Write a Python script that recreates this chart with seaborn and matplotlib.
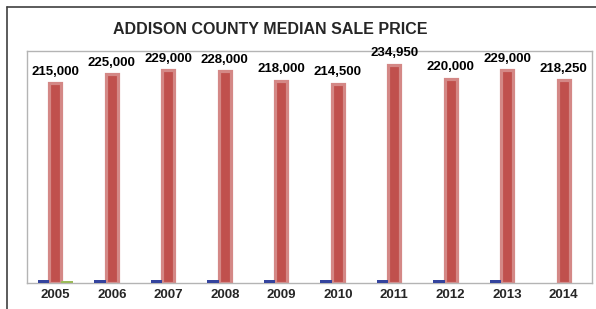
import pandas as pd
import matplotlib
matplotlib.use('Agg')
import matplotlib.pyplot as plt
from matplotlib.lines import Line2D
import seaborn as sns

# values
years = ['2005', '2006', '2007', '2008', '2009', '2010', '2011', '2012', '2013', '2014']
median_price = [215000, 225000, 229000, 228000, 218000, 214500, 234950, 220000, 229000, 218250]
small_blue = [3000, 3000, 3000, 3000, 3000, 3000, 3000, 3000, 3000, None]
small_green = [2500, None, None, None, None, None, None, None, None, None]

rows = []
for i, yr in enumerate(years):
    rows.append({'year': yr, 'series': 'a', 'value': small_blue[i]})
    rows.append({'year': yr, 'series': 'price', 'value': median_price[i]})
    rows.append({'year': yr, 'series': 'b', 'value': small_green[i]})
df = pd.DataFrame(rows).dropna()

sns.set_theme(style="white")
plt.rcParams['font.family'] = ['Liberation Sans', 'DejaVu Sans']

fig = plt.figure(figsize=(5.96, 3.09), dpi=100)
ax = fig.add_axes([27 / 596, 26 / 309, 565 / 596, 232 / 309])

palette = {'a': '#34449e', 'price': '#c0504d', 'b': '#9bbb59'}
sns.barplot(data=df, x='year', y='value', hue='series', order=years,
            hue_order=['a', 'price', 'b'], palette=palette, width=0.62,
            saturation=1, errorbar=None, legend=False, ax=ax)

# small bars sit on top of the axis line
for c in (ax.containers[0], ax.containers[2]):
    for p in c:
        p.set_edgecolor('none')
        p.set_zorder(4)

# red bars get the soft halo
red = ax.containers[1]
for p in red:
    p.set_edgecolor('#d48886')
    p.set_linewidth(2.3)

ax.bar_label(red, labels=[f"{v:,}" for v in median_price], padding=4,
             fontsize=9.5, fontweight='bold', color='black')

ax.set_ylim(0, 250000)
ax.set_xlim(-0.5, len(years) - 0.5)
ax.set_yticks([])
ax.set_xlabel('')
ax.set_ylabel('')
ax.tick_params(axis='x', length=0, pad=4, labelsize=9.5)
for lab in ax.get_xticklabels():
    lab.set_fontweight('bold')
for s in ax.spines.values():
    s.set_color('#b4b4b4')
    s.set_linewidth(1.0)

fig.text(270 / 596, 1 - 29 / 309, 'ADDISON COUNTY MEDIAN SALE PRICE',
         ha='center', va='center', fontsize=11.5, fontweight='bold')

# outer frame (top and left edges only)
fig.add_artist(Line2D([7 / 596, 1], [1 - 7 / 309, 1 - 7 / 309],
                      transform=fig.transFigure, color='#404040', lw=1.2))
fig.add_artist(Line2D([7 / 596, 7 / 596], [0, 1 - 7 / 309],
                      transform=fig.transFigure, color='#404040', lw=1.2))

fig.savefig('out.png', dpi=100)
plt.close(fig)
